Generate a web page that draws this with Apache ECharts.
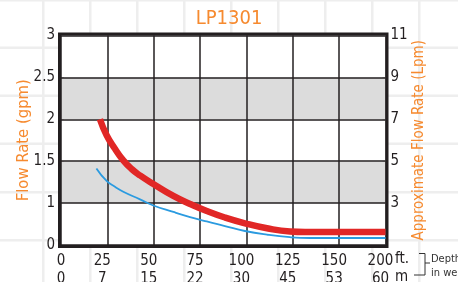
<!DOCTYPE html>
<html><head><meta charset="utf-8">
<script src="https://cdn.jsdelivr.net/npm/echarts@6/dist/echarts.min.js"></script>
<style>html,body{margin:0;padding:0;background:#fff}#c{width:458px;height:282px}</style>
</head><body><div id="c"></div>
<script>
// Tick labels (axes are evenly spaced between these ticks)
const xTicksFt = [0, 25, 50, 75, 100, 125, 150, 200];
const xTicksM  = [0, 7, 15, 22, 30, 45, 53, 60];
const yTicksGpm = [0, 1, 1.5, 2, 2.5, 3];
const yTicksLpm = ['', '3', '5', '7', '9', '11'];

// Series: depth (ft) -> flow rate (gpm)
const redFt  = [21, 24.6, 29.1, 33.6, 38.1, 42.6, 49.8, 60.6, 69.6, 78.6, 88.4, 99.2, 111.1, 123.5, 131.6, 150, 200];
const redGpm = [2.0, 1.81, 1.649, 1.51, 1.407, 1.33, 1.228, 1.085, 0.979, 0.811, 0.656, 0.518, 0.399, 0.322, 0.31, 0.31, 0.31];
const blueFt  = [19.1, 24.6, 29.1, 33.6, 42.6, 49.8, 60.6, 69.6, 78.6, 88.4, 99.2, 111.1, 123.5, 134.3, 150, 200];
const blueGpm = [1.413, 1.264, 1.195, 1.136, 1.045, 0.943, 0.788, 0.668, 0.561, 0.453, 0.334, 0.246, 0.186, 0.167, 0.167, 0.167];

function toIdx(v, ticks) {
  for (let i = 0; i < ticks.length - 1; i++) {
    if (v <= ticks[i + 1]) return i + (v - ticks[i]) / (ticks[i + 1] - ticks[i]);
  }
  return ticks.length - 1;
}
const redData = redFt.map((f, i) => [toIdx(f, xTicksFt), toIdx(redGpm[i], yTicksGpm)]);
const blueData = blueFt.map((f, i) => [toIdx(f, xTicksFt), toIdx(blueGpm[i], yTicksGpm)]);

const FONT = "'Liberation Sans Narrow', 'DejaVu Sans Condensed', sans-serif";
const ORANGE = '#f68a2f';
const INK = '#231f20';

const paper = [];
[43, 90, 137, 184, 231, 278, 325, 372, 419].forEach(x => paper.push({type:'rect', z:-10, silent:true, shape:{x:x-1, y:0, width:2.5, height:282}, style:{fill:'#eeeeee'}}));
[0, 47.5, 95.5, 143.5, 192, 240].forEach(y => paper.push({type:'rect', z:-10, silent:true, shape:{x:0, y:y-1, width:458, height:2.5}, style:{fill:'#eeeeee'}}));

const chart = echarts.init(document.getElementById('c'), null, {renderer:'canvas'});
chart.setOption({
  animation: false,
  backgroundColor: '#ffffff',
  title: {
    text: 'LP1301', left: 'center', top: 4, padding: [5, 9, 5, 5],
    textStyle: {color: ORANGE, fontFamily: FONT, fontSize: 20, fontWeight: 'normal'}
  },
  grid: {left: 61, right: 72.5, top: 35.5, bottom: 37, outerBoundsMode: 'none', containLabel: false,
         show: true, backgroundColor: '#fff', borderColor: INK, borderWidth: 6},
  xAxis: {
    type: 'value', min: 0, max: 7, interval: 1,
    axisLine: {show: false}, axisTick: {show: false},
    splitLine: {show: true, lineStyle: {color: INK, width: 1.5}},
    axisLabel: {
      margin: 7,
      formatter: v => {
        const i = Math.round(v);
        const s = i === 0 ? 'a' : 'b';
        return '{' + s + '|' + xTicksFt[i] + '}\n{' + s + '|' + xTicksM[i] + '}';
      },
      rich: {
        a: {fontFamily: FONT, fontSize: 15, lineHeight: 18, color: INK},
        b: {fontFamily: FONT, fontSize: 15, lineHeight: 18, color: INK, padding: [0, 10, 0, 0]}
      }
    }
  },
  yAxis: [{
    type: 'value', min: 0, max: 5, interval: 1, position: 'left',
    name: 'Flow Rate (gpm)', nameLocation: 'middle', nameRotate: 90, nameGap: 29, nameMoveOverlap: false,
    nameTextStyle: {color: ORANGE, fontFamily: FONT, fontSize: 16.5},
    axisLine: {show: false}, axisTick: {show: false},
    splitLine: {show: true, lineStyle: {color: INK, width: 1.5}},
    splitArea: {show: true, areaStyle: {color: ['#ffffff', '#dcdcdc']}},
    axisLabel: {margin: 6, color: INK, fontFamily: FONT, fontSize: 15, formatter: v => String(yTicksGpm[Math.round(v)])}
  }, {
    type: 'value', min: 0, max: 5, interval: 1, position: 'right',
    name: 'Approximate Flow Rate (Lpm)', nameLocation: 'middle', nameRotate: 90, nameGap: 26, nameMoveOverlap: false,
    nameTextStyle: {color: ORANGE, fontFamily: FONT, fontSize: 15},
    axisLine: {show: false}, axisTick: {show: false}, splitLine: {show: false},
    axisLabel: {margin: 5, color: INK, fontFamily: FONT, fontSize: 15, formatter: v => yTicksLpm[Math.round(v)]}
  }],
  series: [{
    type: 'line', data: blueData, showSymbol: false, smooth: 0.5,
    lineStyle: {color: '#2b9be0', width: 1.8}, z: 3
  }, {
    type: 'line', data: redData, showSymbol: false, smooth: 0.5,
    lineStyle: {color: '#e12726', width: 6.5}, z: 4
  }],
  graphic: paper.concat([
    {type:'text', x: 395, y: 259, silent:true, style:{text:'ft.', font:'15px ' + FONT, fill: INK, verticalAlign:'middle'}},
    {type:'text', x: 395, y: 277, silent:true, style:{text:'m', font:'15px ' + FONT, fill: INK, verticalAlign:'middle'}},
    {type:'polyline', silent:true, shape:{points:[[419,253.5],[425,253.5],[425,275],[414,275]]}, style:{stroke:'#333', lineWidth:1, fill:null}},
    {type:'line', silent:true, shape:{x1:425, y1:263, x2:430, y2:263}, style:{stroke:'#333', lineWidth:1}},
    {type:'text', x: 431, y: 259, silent:true, style:{text:'Depth', font:'11px ' + FONT, fill:'#333', verticalAlign:'middle'}},
    {type:'text', x: 431, y: 273, silent:true, style:{text:'in well', font:'11px ' + FONT, fill:'#333', verticalAlign:'middle'}}
  ])
});
</script></body></html>
